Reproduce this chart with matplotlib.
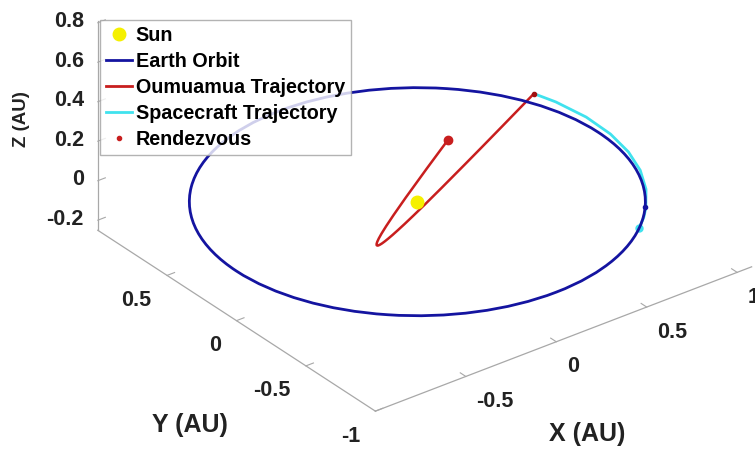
import matplotlib.pyplot as plt
from matplotlib.patches import Circle
from matplotlib.lines import Line2D
import mpl_toolkits.mplot3d.art3d as art3d

plt.rcParams['font.family'] = ['Liberation Sans', 'DejaVu Sans']
plt.rcParams['font.weight'] = 'bold'

# Oumuamua heliocentric path in AU (ecliptic frame), inbound leg first
oum_x = [-0.4142, -0.4176, -0.4081, -0.3901, -0.3685, -0.3454, -0.3212, -0.2965,
         -0.2712, -0.2452, -0.2183, -0.1902, -0.1602, -0.1280, -0.0929, -0.0540,
         -0.0100, 0.0407, 0.1010, 0.1744, 0.2673, 0.3901, 0.5627, 0.6792,
         0.8268, 1.0343]
oum_y = [-0.7617, -0.6136, -0.4477, -0.3364, -0.2550, -0.1919, -0.1405, -0.0972,
         -0.0596, -0.0261, 0.0046, 0.0332, 0.0604, 0.0868, 0.1128, 0.1389,
         0.1656, 0.1936, 0.2235, 0.2563, 0.2932, 0.3364, 0.3895, 0.4216,
         0.4594, 0.5082]
oum_z = [0.8090, 0.5974, 0.3690, 0.2232, 0.1221, 0.0478, -0.0092, -0.0544,
         -0.0913, -0.1219, -0.1478, -0.1700, -0.1890, -0.2056, -0.2196, -0.2313,
         -0.2407, -0.2474, -0.2508, -0.2496, -0.2417, -0.2232, -0.1864, -0.1565,
         -0.1144, -0.0492]

# spacecraft transfer arc, Earth departure -> rendezvous
sc_x = [0.6293, 0.7077, 0.7683, 0.8759, 0.9632, 1.0277, 1.0670, 1.0793, 1.0619, 1.0343]
sc_y = [-0.7771, -0.7084, -0.6447, -0.5057, -0.3506, -0.1812, 0.0, 0.1903, 0.3865, 0.5082]
sc_z = [0.0, -0.004, -0.007, -0.013, -0.019, -0.026, -0.032, -0.038, -0.045, -0.0492]

earth_r = 1.0
earth_now = [0.766, -0.643, 0.0]

blue = '#1414a0'
red = '#c81e1e'
cyan = '#40e2ee'
ink = '#222222'

fig = plt.figure(figsize=(7.55, 4.49), dpi=100)
S = 600
cx, cy = 416.6 / 755, 1 - 152 / 449
ax = fig.add_axes([cx - S / 2 / 755, cy - S / 2 / 449, S / 755, S / 449],
                  projection='3d', proj_type='ortho')
ax.view_init(elev=30, azim=-127.5)

orbit = Circle((0, 0), earth_r, fill=False, ec=blue, lw=2)
ax.add_patch(orbit)
art3d.pathpatch_2d_to_3d(orbit, z=0, zdir='z')

ax.plot(oum_x, oum_y, oum_z, color=red, lw=1.8)
ax.plot(sc_x, sc_y, sc_z, color=cyan, lw=2)
ax.plot([oum_x[0]], [oum_y[0]], [oum_z[0]], 'o', color=red, ms=6)
ax.plot([sc_x[0]], [sc_y[0]], [sc_z[0]], 'o', color=cyan, ms=5)
ax.plot([earth_now[0]], [earth_now[1]], [earth_now[2]], 'o', color=blue, ms=3)
ax.plot([0], [0], [0], 'o', color='#f5f000', ms=9)
ax.plot([oum_x[-1]], [oum_y[-1]], [oum_z[-1]], 'o', color='#a01010', ms=3)

ax.set_xlim(-1, 1.08)
ax.set_ylim(-1.0005, 0.999)
ax.set_zlim(-0.251, 0.809)
ax.set_box_aspect((2.08, 2.0, 1.06), zoom=1.134)
ax.set_xticks([-0.5, 0, 0.5, 1])
ax.set_yticks([-1, -0.5, 0, 0.5])
ax.set_zticks([-0.2, 0, 0.2, 0.4, 0.6, 0.8])
ax.set_xticklabels(['-0.5', '0', '0.5', '1'])
ax.set_yticklabels(['-1', '-0.5', '0', '0.5'])
ax.set_zticklabels(['-0.2', '0', '0.2', '0.4', '0.6', '0.8'])
ax.grid(False)
for a in (ax.xaxis, ax.yaxis, ax.zaxis):
    a.set_pane_color((1, 1, 1, 0))
    a.pane.set_edgecolor('none')
    a.line.set_color('#a8a8a8')
    a.line.set_linewidth(0.9)
    a._axinfo['tick']['inward_factor'] = 0
    a._axinfo['tick']['outward_factor'] = 0.25
ax.tick_params(colors='#a8a8a8', labelcolor=ink, labelsize=15.5, width=0.9)
ax.tick_params(axis='x', pad=0.5)
ax.tick_params(axis='y', pad=1.2)
ax.tick_params(axis='z', pad=-3.2)

for t in ax.xaxis.get_major_ticks():
    t.label1.set_ha('left')
    t.label1.set_va('top')
for t in ax.yaxis.get_major_ticks():
    t.label1.set_ha('right')
    t.label1.set_va('top')
for t in ax.zaxis.get_major_ticks():
    t.label1.set_ha('right')
    t.label1.set_va('center')

fig.text(587 / 755, 1 - 434 / 449, 'X (AU)', fontsize=18, ha='center', va='center', color=ink)
fig.text(190 / 755, 1 - 425 / 449, 'Y (AU)', fontsize=18, ha='center', va='center', color=ink)
fig.text(22 / 755, 1 - 119 / 449, 'Z (AU)', fontsize=13.5, ha='center', va='center',
         rotation=90, color=ink)

handles = [
    Line2D([], [], ls='none', marker='o', color='#f5f000', ms=9),
    Line2D([], [], color=blue, lw=2),
    Line2D([], [], color=red, lw=2),
    Line2D([], [], color=cyan, lw=2),
    Line2D([], [], ls='none', marker='o', color=red, ms=3),
]
labels = ['Sun', 'Earth Orbit', 'Oumuamua Trajectory', 'Spacecraft Trajectory', 'Rendezvous']
leg = fig.legend(handles, labels, loc='upper left', bbox_to_anchor=(100 / 755, 1 - 20 / 449),
                 fontsize=14.2, frameon=True, fancybox=False, borderpad=0.3,
                 handlelength=1.3, handletextpad=0.2, labelspacing=0.36, borderaxespad=0)
leg.get_frame().set_edgecolor('#a0a0a0')
leg.get_frame().set_linewidth(1)

fig.savefig('out.png', dpi=100)
